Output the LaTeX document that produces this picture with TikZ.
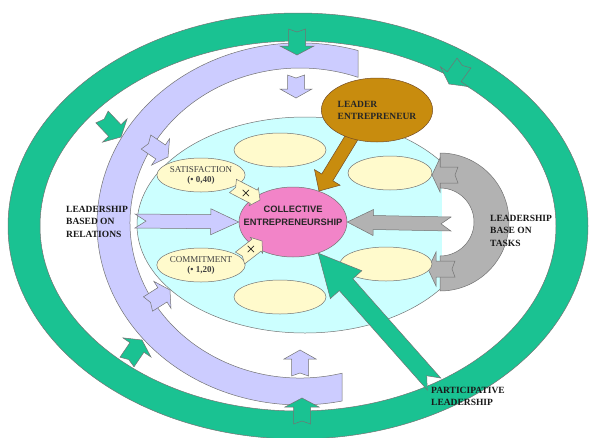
\documentclass[tikz,border=0pt]{standalone}
\usepackage{amsmath}
\usepackage{fontspec}
\setmainfont{Liberation Serif}
\setsansfont{Liberation Sans}
\usetikzlibrary{calc,shapes.geometric}

\definecolor{ringgreen}{RGB}{26,194,146}
\definecolor{lilac}{RGB}{204,204,255}
\definecolor{skycyan}{RGB}{204,255,255}
\definecolor{paleyellow}{RGB}{255,250,204}
\definecolor{pinkfill}{RGB}{242,132,200}
\definecolor{goldbrown}{RGB}{200,140,14}
\definecolor{taskgrey}{RGB}{178,178,178}

\tikzset{
  edge/.style={draw=black!55, line width=0.5pt},
  ring/.style={edge, fill=ringgreen},
  relband/.style={edge, fill=lilac},
  pool/.style={edge, fill=skycyan},
  taskband/.style={edge, fill=taskgrey},
  brownarrow/.style={draw=brown!60!black, line width=0.5pt, fill=goldbrown},
  crossarrow/.style={edge, fill=paleyellow},
  cell/.style={ellipse, edge, fill=paleyellow, minimum width=92pt, minimum height=34pt, inner sep=0pt},
  factor/.style={cell, minimum width=84pt, font=\fontsize{9}{10}\selectfont, text=black!75, align=center},
  core/.style={ellipse, edge, fill=pinkfill, minimum width=108pt, minimum height=70pt, inner sep=0pt},
  coretext/.style={font=\sffamily\bfseries\fontsize{9.3}{13.5}\selectfont, align=center, inner sep=0pt, text=black!85},
  leader/.style={ellipse, draw=brown!60!black, line width=0.5pt, fill=goldbrown, minimum width=110pt, minimum height=64pt,
    inner sep=0pt, align=left, font=\fontsize{9.5}{12}\selectfont\bfseries, text=black!85},
  caption/.style={font=\fontsize{9.5}{12.5}\selectfont\bfseries, align=left, inner sep=0pt, anchor=north west, text=black!90},
  cross/.style={font=\fontsize{13}{13}\selectfont, inner sep=0pt}
}

% notched block arrow: style, tail, tip, body half width, head half width, head length, notch
\newcommand{\notched}[7]{%
  \coordinate (nt) at #2;
  \coordinate (np) at #3;
  \coordinate (nh) at ($(np)!#6!(nt)$);
  \filldraw[#1] ($(nt)!#4!90:(np)$) -- ($(nh)!#4!90:(np)$) -- ($(nh)!#5!90:(np)$) -- (np)
    -- ($(nh)!#5!-90:(np)$) -- ($(nh)!#4!-90:(np)$) -- ($(nt)!#4!-90:(np)$) -- ($(nt)!#7!(np)$) -- cycle;
}

\begin{document}
\begin{tikzpicture}[x=1pt,y=-1pt]
\useasboundingbox (0,0) rectangle (592,437);

% outer green ring
\filldraw[ring, even odd rule] (298,226) ellipse [x radius=290, y radius=213]
  (298,226) ellipse [x radius=258, y radius=185];

% band of relations
\filldraw[relband] (358,50.5) arc [start angle=-73.4, end angle=-281.94, x radius=203, y radius=181]
  -- (342,373.2) arc [start angle=75.7, end angle=289.95, x radius=170, y radius=155] -- cycle;

% green arrows on the ring
\notched{ring}{(297,29)}{(297,55)}{8.5pt}{17pt}{9pt}{3pt}
\notched{ring}{(464,63)}{(449,84)}{8.5pt}{17pt}{9pt}{3pt}
\notched{ring}{(102,117)}{(121,137)}{8.5pt}{17pt}{9pt}{3pt}
\notched{ring}{(127,362)}{(142,340)}{8.5pt}{17pt}{9pt}{3pt}
\notched{ring}{(302,424)}{(302,398)}{8.5pt}{17pt}{9pt}{3pt}

% the pool
\filldraw[pool] (305,225) ellipse [x radius=168, y radius=108];

% lilac arrows
\notched{relband}{(296,75)}{(296,98)}{8.5pt}{16pt}{9pt}{3pt}
\notched{relband}{(146,142)}{(168,157)}{8.5pt}{16pt}{9pt}{3pt}
\notched{relband}{(148,304)}{(170,290)}{8.5pt}{16pt}{9pt}{3pt}
\notched{relband}{(300,376)}{(300,350)}{8.5pt}{16pt}{9pt}{3pt}

% band of tasks
\fill[white] (442,188) arc [start angle=-90, end angle=90, radius=34] -- cycle;
\filldraw[taskband] (440,153) arc [start angle=-90, end angle=90, radius=69]
  -- (440,256) arc [start angle=90, end angle=-90, radius=34] -- cycle;
\notched{taskband}{(458,175)}{(432,175)}{8pt}{17pt}{8pt}{3pt}
\notched{taskband}{(455,269)}{(428,269)}{8pt}{17pt}{8pt}{3pt}

% ellipses of the pool
\node[cell] (e1) at (280,150) {};
\node[cell, minimum width=84pt] (e2) at (390,173) {};
\node[cell] (e3) at (386,264) {};
\node[cell] (e4) at (280,297) {};
\node[factor] (sat) at (201,175) {SATISFACTION\\\textbf{(• 0,40)}};
\node[factor] (com) at (201,265) {COMMITMENT\\\textbf{(• 1,20)}};

% centre
\node[core] (core) at (293,222) {};
\node[coretext] (coreText) at ($(core)+(0,-6)$) {COLLECTIVE\\ENTREPRENEURSHIP};

% leader
\notched{brownarrow}{(355,132)}{(core.50)}{6.5pt}{15pt}{16pt}{0pt}
\node[leader] (leader) at (377,110) {LEADER\\ENTREPRENEUR};

% arrows to the centre
\notched{relband}{(135,221)}{(core.west)}{7pt}{13pt}{28pt}{11pt}
\notched{taskband}{(451,224)}{(core.east)}{7pt}{13pt}{26pt}{10pt}
\notched{ring}{(434,384)}{(core.-51)}{9pt}{21pt}{42pt}{11pt}
\notched{crossarrow}{(233,186)}{(260,200)}{7.5pt}{10pt}{7pt}{3pt}
\notched{crossarrow}{(240,258)}{(262,241)}{7.5pt}{10pt}{7pt}{3pt}
\node[cross] (x1) at (246,193) {$\boldsymbol{\times}$};
\node[cross] (x2) at (251,249) {$\boldsymbol{\times}$};

% captions
\node[caption] (rel) at (66,206) {LEADERSHIP\\BASED ON\\RELATIONS};
\node[caption] (task) at (490,215) {LEADERSHIP\\BASE ON\\TASKS};
\node[caption] (part) at (431,387) {PARTICIPATIVE\\LEADERSHIP};
\end{tikzpicture}
\end{document}
